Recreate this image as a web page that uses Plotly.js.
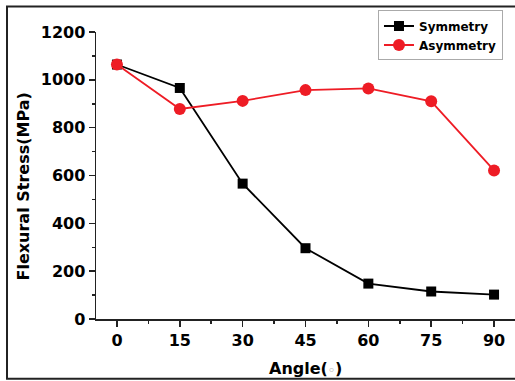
<!DOCTYPE html>
<html>
<head>
<meta charset="utf-8">
<script src="https://cdn.plot.ly/plotly-3.0.1.min.js"></script>
<style>html,body{margin:0;padding:0;background:#fff;}#chart{width:515px;height:381px;}</style>
</head>
<body>
<div id="chart"></div>
<script>
const angles = [0, 15, 30, 45, 60, 75, 90];
const symmetry = [1064, 966, 566, 296, 148, 115, 102];
const asymmetry = [1064, 878, 912, 957, 964, 910, 621];
const xTickVals = [0, 15, 30, 45, 60, 75, 90];
const yTickVals = [0, 200, 400, 600, 800, 1000, 1200];

const F = 'DejaVu Sans';
const traces = [
  {x: angles, y: symmetry, name: 'Symmetry', type: 'scatter', mode: 'lines+markers',
   line: {color: '#000000', width: 1.8}, marker: {symbol: 'square', size: 10, color: '#000000'}},
  {x: angles, y: asymmetry, name: 'Asymmetry', type: 'scatter', mode: 'lines+markers',
   line: {color: '#ee1c25', width: 1.8}, marker: {symbol: 'circle', size: 12, color: '#ee1c25'}}
];
const layout = {
  width: 515, height: 381,
  margin: {l: 96, r: 0, t: 32, b: 62},
  paper_bgcolor: '#ffffff', plot_bgcolor: '#ffffff',
  showlegend: true,
  legend: {x: 0.673, y: 1.075, xanchor: 'left', yanchor: 'top',
    bordercolor: '#aaaaaa', borderwidth: 1, bgcolor: '#ffffff',
    font: {family: F, size: 12, color: '#000', weight: 'bold'},
    tracegroupgap: 0, itemwidth: 30},
  xaxis: {range: [-5, 95], tickvals: xTickVals, ticks: 'outside', ticklen: 6, tickwidth: 1.5,
    tickcolor: '#222', showline: true, linecolor: '#222', linewidth: 1.5, showgrid: false, zeroline: false,
    tickfont: {family: F, size: 16, color: '#000', weight: 'bold'},
    minor: {dtick: 7.5, tick0: 0, ticks: 'outside', ticklen: 3, tickcolor: '#222', showgrid: false}},
  yaxis: {range: [0, 1200], tickvals: yTickVals, ticks: 'outside', ticklen: 6, tickwidth: 1.5,
    tickcolor: '#222', showline: true, linecolor: '#222', linewidth: 1.5, showgrid: false, zeroline: false,
    tickfont: {family: F, size: 16, color: '#000', weight: 'bold'},
    minor: {dtick: 100, tick0: 0, ticks: 'outside', ticklen: 3, tickcolor: '#222', showgrid: false}},
  annotations: [
    {text: 'Flexural Stress(MPa)', xref: 'paper', yref: 'paper', x: -0.173, y: 0.46,
     textangle: -90, showarrow: false, xanchor: 'center', yanchor: 'middle',
     font: {family: F, size: 16, color: '#000', weight: 'bold'}},
    {text: 'Angle(<span style="color:#999999;font-size:11px">◦</span>)', xref: 'paper', yref: 'paper', x: 0.5, y: -0.171,
     showarrow: false, xanchor: 'center', yanchor: 'middle',
     font: {family: F, size: 16, color: '#000', weight: 'bold'}}
  ],
  shapes: [
    {type: 'rect', xref: 'paper', yref: 'paper', x0: -0.2124, x1: 1.2, y0: -0.2085, y1: 1.0888,
     line: {color: '#222222', width: 2}, fillcolor: 'rgba(0,0,0,0)', layer: 'above'}
  ]
};
Plotly.newPlot('chart', traces, layout, {displayModeBar: false, staticPlot: true});
</script>
</body>
</html>
